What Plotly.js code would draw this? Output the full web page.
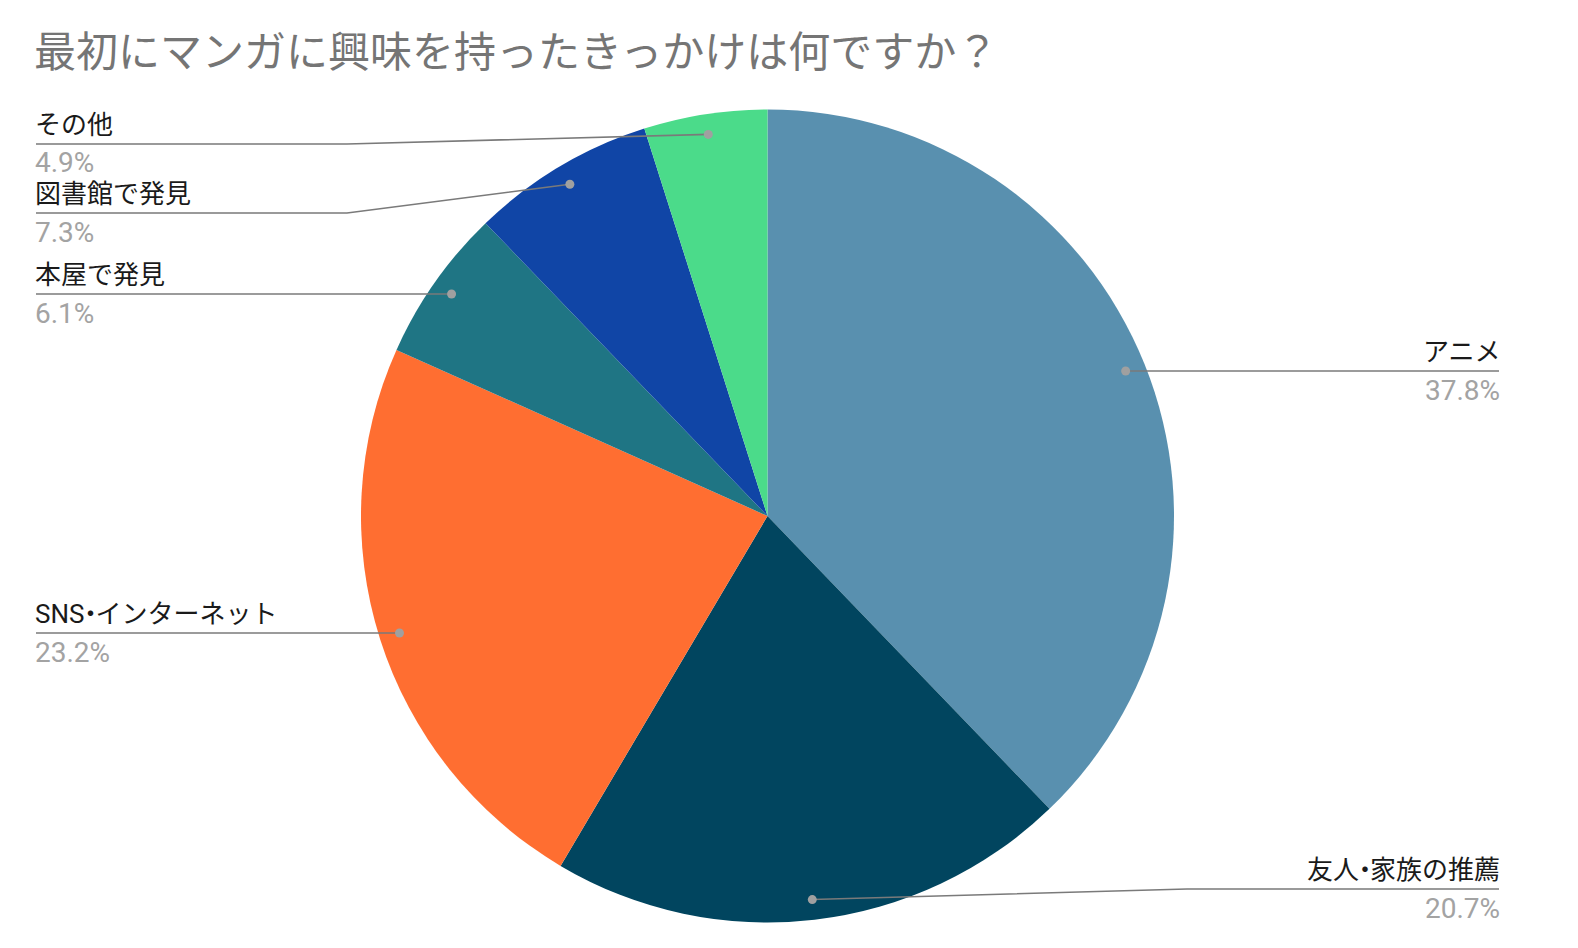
<!DOCTYPE html>
<html>
<head>
<meta charset="utf-8">
<script src="https://cdn.plot.ly/plotly-3.0.1.min.js"></script>
<style>html,body{margin:0;padding:0;background:#fff;}#chart{width:1578px;height:948px;}</style>
</head>
<body>
<div id="chart"></div>
<script>
// ---- data ----
const categories = ['アニメ', '友人・家族の推薦', 'SNS・インターネット', '本屋で発見', '図書館で発見', 'その他'];
const values = [37.8, 20.7, 23.2, 6.1, 7.3, 4.9];
const percentLabels = ['37.8%', '20.7%', '23.2%', '6.1%', '7.3%', '4.9%'];
const titleText = '最初にマンガに興味を持ったきっかけは何ですか？';

// ---- styles / layout ----
const colors = ['#5990AF', '#01455F', '#FF6E31', '#1F7584', '#1045A6', '#4BDB8A'];
const W = 1578, H = 948;
const pieBox = {x0: 361, x1: 1174, y0: 109, y1: 923};
// label placement: side, leader-line y (px), optional bend x (px)
const labelPlace = [
  {side: 'right', y: 371},
  {side: 'right', y: 889, bend: 1187},
  {side: 'left', y: 633},
  {side: 'left', y: 294},
  {side: 'left', y: 213, bend: 347},
  {side: 'left', y: 144, bend: 347}
];
const leftX = 36, rightX = 1499;
const textLeftX = 33, textRightX = 1502;
const FONT = 'Roboto, "Noto Sans CJK JP", sans-serif';

const px = x => x / W;
const py = y => 1 - y / H;

// narrow the full-width middle dot like the reference rendering
function displayLabel(s) {
  const chars = Array.from(s);
  let out = '';
  chars.forEach((c, k) => {
    const next = chars[k + 1];
    if (next === '・') {
      out += `<span style="letter-spacing:-7px">${c}</span>`;
    } else if (c === '・') {
      out += `<span style="letter-spacing:-8px">${c}</span>`;
    } else {
      out += c;
    }
  });
  return out;
}

const cx = (pieBox.x0 + pieBox.x1) / 2;
const cy = (pieBox.y0 + pieBox.y1) / 2;
const R = Math.min(pieBox.x1 - pieBox.x0, pieBox.y1 - pieBox.y0) / 2;
const total = values.reduce((a, b) => a + b, 0);

const shapes = [];
const annotations = [];
let cum = 0;
values.forEach((v, i) => {
  const mid = (cum + v / 2) / total;
  cum += v;
  const ang = mid * 2 * Math.PI;
  const dx = cx + 0.95 * R * Math.sin(ang);
  const dy = cy - 0.95 * R * Math.cos(ang);
  const lp = labelPlace[i];
  const endX = lp.side === 'left' ? leftX : rightX;
  const tX = lp.side === 'left' ? textLeftX : textRightX;
  let path;
  if (lp.bend !== undefined) {
    path = `M ${px(endX)} ${py(lp.y)} L ${px(lp.bend)} ${py(lp.y)} L ${px(dx)} ${py(dy)}`;
  } else {
    path = `M ${px(endX)} ${py(lp.y)} L ${px(dx)} ${py(lp.y)}`;
  }
  shapes.push({type: 'path', xref: 'paper', yref: 'paper', path: path,
    line: {color: '#7a7a7a', width: 1.6}, layer: 'above'});
  const dotY = lp.bend !== undefined ? dy : lp.y;
  shapes.push({type: 'circle', xref: 'paper', yref: 'paper',
    xsizemode: 'pixel', ysizemode: 'pixel',
    xanchor: px(dx), yanchor: py(dotY), x0: -4.5, x1: 4.5, y0: -4.5, y1: 4.5,
    fillcolor: '#a0a0a0', line: {width: 0}, layer: 'above'});
  const xa = lp.side === 'left' ? 'left' : 'right';
  annotations.push({xref: 'paper', yref: 'paper', x: px(tX), y: py(lp.y - 19),
    xanchor: xa, yanchor: 'middle', showarrow: false, text: displayLabel(categories[i]),
    font: {family: FONT, size: 26, color: '#1a1a1a'}});
  annotations.push({xref: 'paper', yref: 'paper', x: px(tX), y: py(lp.y + 19),
    xanchor: xa, yanchor: 'middle', showarrow: false, text: percentLabels[i],
    font: {family: FONT, size: 28, color: '#a3a3a3'}});
});

const trace = {
  type: 'pie',
  labels: categories,
  values: values,
  sort: false,
  direction: 'clockwise',
  rotation: 0,
  textinfo: 'none',
  hoverinfo: 'none',
  showlegend: false,
  marker: {colors: colors, line: {color: '#ffffff', width: 0}},
  domain: {x: [px(pieBox.x0), px(pieBox.x1)], y: [py(pieBox.y1), py(pieBox.y0)]}
};

const layout = {
  width: W, height: H,
  margin: {l: 0, r: 0, t: 0, b: 0},
  paper_bgcolor: '#ffffff',
  showlegend: false,
  title: {text: titleText, x: px(34), xanchor: 'left', y: py(52), yanchor: 'middle',
    font: {family: FONT, size: 42, color: '#757575'}},
  shapes: shapes,
  annotations: annotations
};

Plotly.newPlot('chart', [trace], layout, {staticPlot: true});
</script>
</body>
</html>
